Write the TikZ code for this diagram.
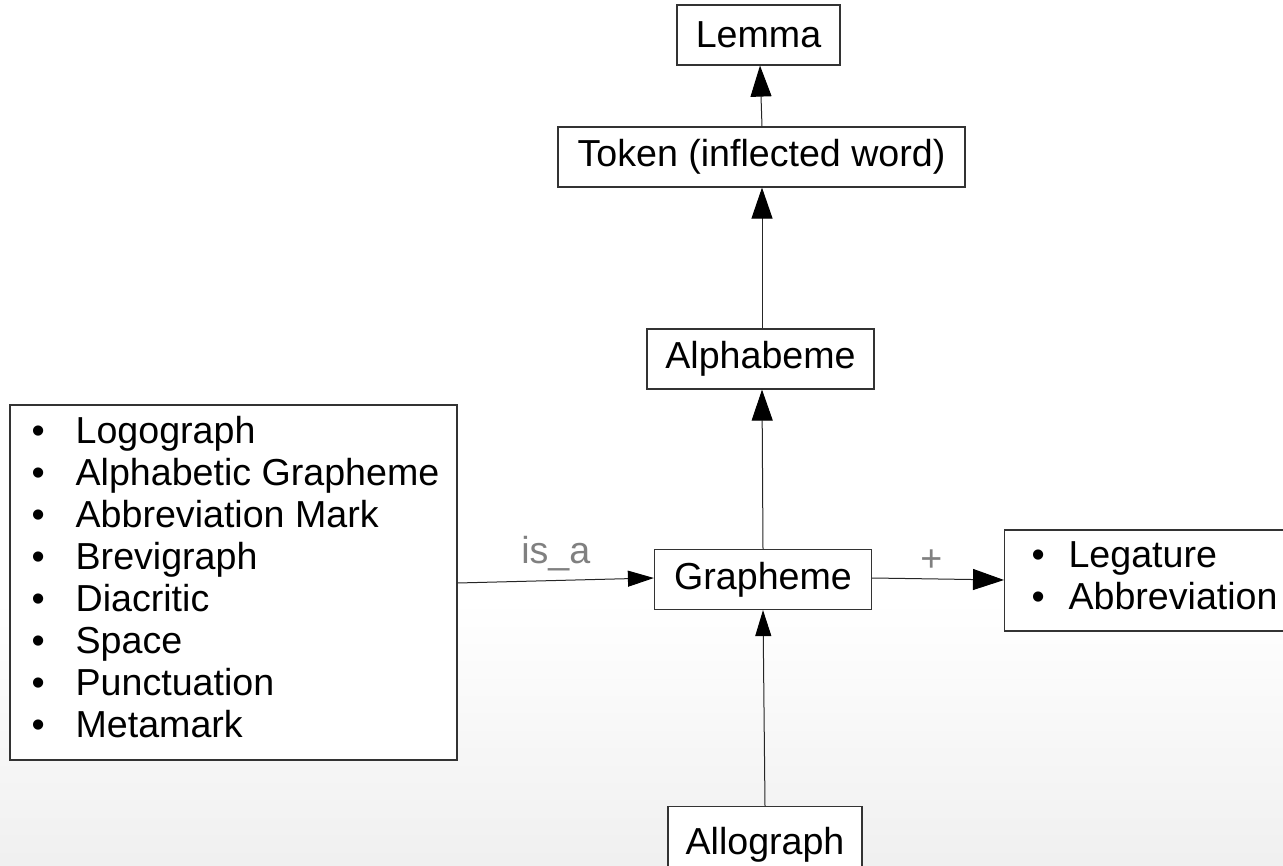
\documentclass[tikz,border=0pt]{standalone}
\usepackage{fontspec}
\setmainfont{Liberation Sans}
\usetikzlibrary{arrows.meta}
\begin{document}
\begin{tikzpicture}[x=1pt,y=-1pt,
  every node/.style={font=\fontsize{37.6}{42}\selectfont},
  box/.style={draw=black!80,line width=1.2pt,fill=white,inner sep=0pt,minimum height=60},
  link/.style={draw=black!85,line width=1pt,-{Triangle[length=31pt,width=21pt,color=black]}},
  slimlink/.style={draw=black!85,line width=1pt,-{Triangle[length=26pt,width=16pt,color=black]}},
  tag/.style={text=black!50}]
  % page and soft grey fade at the bottom
  \clip (0,0) rectangle (1283,866);
  \fill[white] (0,0) rectangle (1283,866);
  \shade[top color=white,bottom color=black!6] (0,600) rectangle (1283,866);

  % hierarchy boxes
  \node[box,minimum width=163] (lemma) at (758.5,35) {Lemma};
  \node[box,minimum width=407] (token) at (761.5,157) {Token (inflected word)};
  \node[box,minimum width=227] (alpha) at (760.5,359) {Alphabeme};
  \node[box,minimum width=217] (graph) at (763,579.5) {Grapheme};
  \node[box,minimum width=194,minimum height=76,anchor=north] (allo) at (765,806) {Allograph};

  % kinds of grapheme
  \node[box,minimum width=447,minimum height=355] (kinds) at (233.5,582.5)
    {\hspace{4pt}\begin{tabular}{@{}l@{}l@{}}
      \makebox[44pt][l]{•} & Logograph\\
      • & Alphabetic Grapheme\\
      • & Abbreviation Mark\\
      • & Brevigraph\\
      • & Diacritic\\
      • & Space\\
      • & Punctuation\\
      • & Metamark
    \end{tabular}};

  % combined forms
  \node[box,anchor=west,minimum height=101,inner xsep=27pt] (combo) at (1004,580.5)
    {\begin{tabular}{@{}l@{}l@{}}
      \makebox[37pt][l]{•} & Legature\\
      • & Abbreviation
    \end{tabular}\hspace{20pt}};

  % connectors
  \draw[link] (token.north -| 762,0) -- (lemma.south -| 760,0);
  \draw[link] (alpha.north -| 762,0) -- (token.south -| 762,0);
  \draw[link] (graph.north -| 763,0) -- (alpha.south -| 762,0);
  \draw[slimlink] (allo.north -| 765,0) -- (graph.south -| 763,0);
  \draw[slimlink] (kinds.east |- 0,583) -- (graph.west |- 0,578)
    node[tag,midway,above=6pt] (isa) {is\_a};
  \draw[link] (graph.east |- 0,578) -- (combo.west |- 0,580)
    node[tag,pos=0.45,above=4pt] (plus) {+};
\end{tikzpicture}
\end{document}
